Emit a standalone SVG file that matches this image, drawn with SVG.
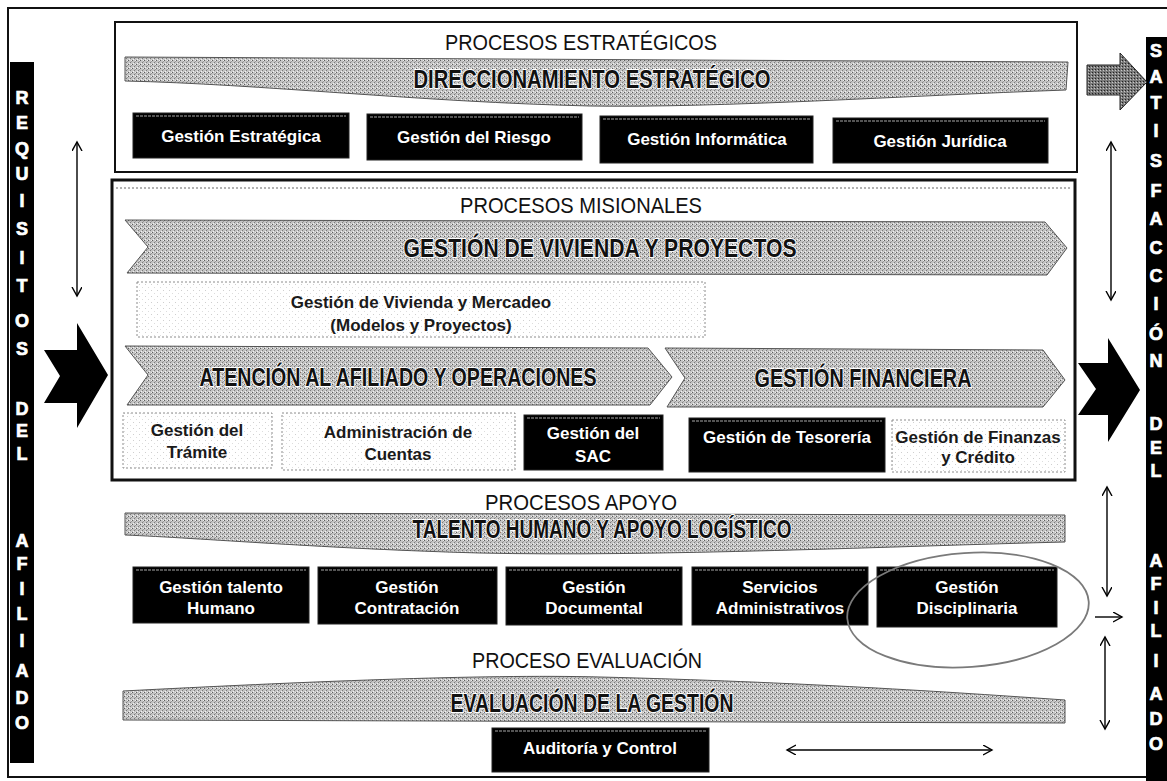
<svg xmlns="http://www.w3.org/2000/svg" width="1167" height="781" viewBox="0 0 1167 781">
<defs>
  <pattern id="ht" width="4" height="4" patternUnits="userSpaceOnUse">
    <rect width="4" height="4" fill="#c4c4c4"/>
    <rect x="0" y="0" width="1" height="1" fill="#5e5e5e"/>
    <rect x="2" y="2" width="1" height="1" fill="#7a7a7a"/>
    <rect x="3" y="1" width="1" height="1" fill="#9a9a9a"/>
    <rect x="3" y="0" width="1" height="1" fill="#efefef"/>
    <rect x="1" y="3" width="1" height="1" fill="#f2f2f2"/>
  </pattern>
  <pattern id="htd" width="3" height="3" patternUnits="userSpaceOnUse">
    <rect width="3" height="3" fill="#7a7a7a"/>
    <rect x="0" y="0" width="1" height="1" fill="#222"/>
    <rect x="2" y="1" width="1" height="1" fill="#c8c8c8"/>
  </pattern>
  <pattern id="lt" width="6" height="6" patternUnits="userSpaceOnUse">
    <rect width="6" height="6" fill="#ffffff"/>
    <rect x="1" y="2" width="1" height="1" fill="#cfcfcf"/>
    <rect x="4" y="5" width="1" height="1" fill="#dddddd"/>
  </pattern>
  <marker id="ah" markerWidth="12" markerHeight="12" refX="9" refY="5" orient="auto-start-reverse" markerUnits="userSpaceOnUse">
    <path d="M0,0 L9,5 L0,10" fill="none" stroke="#000" stroke-width="1.4"/>
  </marker>
  <style>
    .frame{fill:none;stroke:#111;stroke-width:2}
    .sec{fill:none;stroke:#111;stroke-width:2}
    .sec2{fill:none;stroke:#111;stroke-width:3}
    .bar{fill:#000}
    .barT{font-family:"Liberation Sans",Arial,sans-serif;font-weight:bold;font-size:18px;fill:#fff;stroke:#fff;stroke-width:0.7;text-anchor:middle}
    .head{font-family:"Liberation Sans",Arial,sans-serif;font-size:22px;fill:#111;text-anchor:middle}
    .band{fill:url(#ht);stroke:#555;stroke-width:1}
    .bandT{font-family:"Liberation Sans",Arial,sans-serif;font-weight:bold;font-size:26px;fill:#111;stroke:#fff;stroke-width:1.8;paint-order:stroke;text-anchor:middle}
    .bk{fill:#000;stroke:#222;stroke-width:1}
    .bkl{stroke:#a8a8a8;stroke-width:1;stroke-dasharray:3 1}
    .bkT{font-family:"Liberation Sans",Arial,sans-serif;font-weight:bold;font-size:17px;fill:#fff;text-anchor:middle}
    .wb{fill:url(#lt);stroke:#8c8c8c;stroke-width:1;stroke-dasharray:2 2}
    .wbT{font-family:"Liberation Sans",Arial,sans-serif;font-weight:bold;font-size:17px;fill:#1a1a1a;text-anchor:middle}
    .conn{stroke:#000;stroke-width:1.4;fill:none}
  </style>
</defs>
<rect width="1167" height="781" fill="#fff"/>
<!-- outer frame -->
<path class="frame" d="M1167,8 L8,8 L8,777 L1146,777"/>

<!-- left bar -->
<g id="requisitos">
  <rect class="bar" x="10" y="62" width="24" height="701"/>
  <g class="barT">
    <text x="22" y="104">R</text><text x="22" y="129">E</text><text x="22" y="155">Q</text><text x="22" y="180">U</text>
    <text x="22" y="207">I</text><text x="22" y="235">S</text><text x="22" y="264">I</text><text x="22" y="292">T</text>
    <text x="22" y="327">O</text><text x="22" y="355">S</text>
    <text x="22" y="415">D</text><text x="22" y="437">E</text><text x="22" y="460">L</text>
    <text x="22" y="547">A</text><text x="22" y="570">F</text><text x="22" y="595">I</text><text x="22" y="620">L</text>
    <text x="22" y="647">I</text><text x="22" y="677">A</text><text x="22" y="704">D</text><text x="22" y="729">O</text>
  </g>
</g>

<!-- right bar -->
<g id="satisfaccion">
  <rect class="bar" x="1146" y="37" width="21" height="744"/>
  <g class="barT">
    <text x="1156" y="57">S</text><text x="1156" y="83">A</text><text x="1156" y="109">T</text><text x="1156" y="137">I</text>
    <text x="1156" y="167">S</text><text x="1156" y="197">F</text><text x="1156" y="225">A</text><text x="1156" y="254">C</text>
    <text x="1156" y="282">C</text><text x="1156" y="310">I</text><text x="1156" y="340">Ó</text><text x="1156" y="367">N</text>
    <text x="1156" y="430">D</text><text x="1156" y="454">E</text><text x="1156" y="477">L</text>
    <text x="1156" y="567">A</text><text x="1156" y="590">F</text><text x="1156" y="614">I</text><text x="1156" y="637">L</text>
    <text x="1156" y="667">I</text><text x="1156" y="700">A</text><text x="1156" y="725">D</text><text x="1156" y="750">O</text>
  </g>
</g>

<!-- strategic section -->
<g id="procesos-estrategicos">
  <rect class="sec" x="115" y="22" width="962" height="150"/>
  <text class="head" x="581" y="50" textLength="272" lengthAdjust="spacingAndGlyphs">PROCESOS  ESTRATÉGICOS</text>
</g>
<g id="direccionamiento">
  <path class="band" d="M125,57 L1068,62 L1066,90 C900,96 720,108 590,106 C420,102 260,84 125,81 Z"/>
  <text class="bandT" x="592" y="88" textLength="357" lengthAdjust="spacingAndGlyphs">DIRECCIONAMIENTO ESTRATÉGICO</text>
</g>
<g id="gestion-estrategica">
  <rect class="bk" x="133" y="113" width="216" height="45"/>
  <line class="bkl" x1="136" y1="116" x2="346" y2="116"/>
  <text class="bkT" x="241" y="142">Gestión Estratégica</text>
</g>
<g id="gestion-riesgo">
  <rect class="bk" x="367" y="114" width="215" height="46"/>
  <line class="bkl" x1="370" y1="117" x2="579" y2="117"/>
  <text class="bkT" x="474" y="143">Gestión del Riesgo</text>
</g>
<g id="gestion-informatica">
  <rect class="bk" x="600" y="116" width="213" height="47"/>
  <line class="bkl" x1="603" y1="119" x2="810" y2="119"/>
  <text class="bkT" x="707" y="145">Gestión Informática</text>
</g>
<g id="gestion-juridica">
  <rect class="bk" x="833" y="118" width="215" height="45"/>
  <line class="bkl" x1="836" y1="121" x2="1045" y2="121"/>
  <text class="bkT" x="940" y="147">Gestión Jurídica</text>
</g>

<!-- missional section -->
<g id="procesos-misionales">
  <rect class="sec2" x="112" y="180" width="963" height="300"/>
  <line x1="116" y1="188" x2="1071" y2="188" stroke="#666" stroke-width="1" stroke-dasharray="2 2"/>
  <text class="head" x="581" y="213" textLength="242" lengthAdjust="spacingAndGlyphs">PROCESOS  MISIONALES</text>
</g>
<g id="gestion-vivienda-proyectos">
  <path class="band" d="M125,220 L1045,222 L1067,248 L1047,275 L127,273 L148,247 Z"/>
  <text class="bandT" x="600" y="257" textLength="393" lengthAdjust="spacingAndGlyphs">GESTIÓN DE VIVIENDA Y PROYECTOS</text>
</g>
<g id="gestion-vivienda-mercadeo">
  <rect class="wb" x="137" y="282" width="568" height="55"/>
  <text class="wbT" x="421" y="308">Gestión de Vivienda y Mercadeo</text>
  <text class="wbT" x="421" y="331">(Modelos  y Proyectos)</text>
</g>
<g id="atencion-afiliado">
  <path class="band" d="M125,346 L648,348 L672,377 L650,405 L127,405 L148,375 Z"/>
  <text class="bandT" x="398" y="386" textLength="397" lengthAdjust="spacingAndGlyphs">ATENCIÓN AL AFILIADO Y OPERACIONES</text>
</g>
<g id="gestion-financiera">
  <path class="band" d="M665,348 L1043,350 L1065,380 L1043,407 L667,407 L685,378 Z"/>
  <text class="bandT" x="863" y="387" textLength="217" lengthAdjust="spacingAndGlyphs">GESTIÓN FINANCIERA</text>
</g>
<g id="gestion-tramite">
  <rect class="wb" x="123" y="413" width="149" height="55"/>
  <text class="wbT" x="197" y="436">Gestión del</text>
  <text class="wbT" x="197" y="458">Trámite</text>
</g>
<g id="administracion-cuentas">
  <rect class="wb" x="282" y="413" width="233" height="57"/>
  <text class="wbT" x="398" y="438">Administración de</text>
  <text class="wbT" x="398" y="460">Cuentas</text>
</g>
<g id="gestion-sac">
  <rect class="bk" x="524" y="415" width="139" height="55"/>
  <line class="bkl" x1="527" y1="418" x2="660" y2="418"/>
  <text class="bkT" x="593" y="439">Gestión del</text>
  <text class="bkT" x="593" y="462">SAC</text>
</g>
<g id="gestion-tesoreria">
  <rect class="bk" x="689" y="418" width="196" height="54"/>
  <line class="bkl" x1="692" y1="421" x2="882" y2="421"/>
  <text class="bkT" x="787" y="443">Gestión de Tesorería</text>
</g>
<g id="gestion-finanzas-credito">
  <rect class="wb" x="892" y="420" width="173" height="52"/>
  <text class="wbT" x="978" y="443" font-size="15.5">Gestión de Finanzas</text>
  <text class="wbT" x="978" y="463" font-size="15.5">y  Crédito</text>
</g>

<!-- support section -->
<g id="procesos-apoyo">
  <text class="head" x="581" y="510" textLength="192" lengthAdjust="spacingAndGlyphs">PROCESOS  APOYO</text>
</g>
<g id="talento-humano-apoyo">
  <path class="band" d="M125,513 L1065,515 L1065,542 C900,546 650,557 480,553 C330,549 200,538 125,535 Z"/>
  <text class="bandT" x="602" y="538" font-size="24" textLength="379" lengthAdjust="spacingAndGlyphs">TALENTO HUMANO Y APOYO LOGÍSTICO</text>
</g>
<g id="gestion-talento-humano">
  <rect class="bk" x="133" y="567" width="176" height="56"/>
  <line class="bkl" x1="136" y1="570" x2="306" y2="570"/>
  <text class="bkT" x="221" y="593">Gestión talento</text>
  <text class="bkT" x="221" y="614">Humano</text>
</g>
<g id="gestion-contratacion">
  <rect class="bk" x="318" y="567" width="179" height="57"/>
  <line class="bkl" x1="321" y1="570" x2="494" y2="570"/>
  <text class="bkT" x="407" y="593">Gestión</text>
  <text class="bkT" x="407" y="614">Contratación</text>
</g>
<g id="gestion-documental">
  <rect class="bk" x="506" y="567" width="176" height="58"/>
  <line class="bkl" x1="509" y1="570" x2="679" y2="570"/>
  <text class="bkT" x="594" y="593">Gestión</text>
  <text class="bkT" x="594" y="614">Documental</text>
</g>
<g id="servicios-administrativos">
  <rect class="bk" x="692" y="567" width="176" height="58"/>
  <line class="bkl" x1="695" y1="570" x2="865" y2="570"/>
  <text class="bkT" x="780" y="593">Servicios</text>
  <text class="bkT" x="780" y="614">Administrativos</text>
</g>
<g id="gestion-disciplinaria">
  <rect class="bk" x="877" y="567" width="180" height="60"/>
  <line class="bkl" x1="880" y1="570" x2="1054" y2="570"/>
  <text class="bkT" x="967" y="593">Gestión</text>
  <text class="bkT" x="967" y="614">Disciplinaria</text>
  <ellipse cx="968" cy="610" rx="121" ry="57" transform="rotate(-4 968 610)" fill="none" stroke="#7a7a7a" stroke-width="1.8"/>
</g>

<!-- evaluation section -->
<g id="proceso-evaluacion">
  <text class="head" x="587" y="668" textLength="230" lengthAdjust="spacingAndGlyphs">PROCESO EVALUACIÓN</text>
</g>
<g id="evaluacion-gestion">
  <path class="band" d="M123,691 C300,682 480,674 600,677 C800,682 950,692 1065,700 L1065,723 L123,720 Z"/>
  <text class="bandT" x="592" y="712" font-size="24" textLength="283" lengthAdjust="spacingAndGlyphs">EVALUACIÓN DE LA GESTIÓN</text>
</g>
<g id="auditoria-control">
  <rect class="bk" x="492" y="728" width="217" height="44"/>
  <line class="bkl" x1="495" y1="731" x2="706" y2="731"/>
  <text class="bkT" x="600" y="754">Auditoría y Control</text>
</g>

<!-- connectors -->
<g id="connectors">
  <path d="M44,350 L77,350 L77,323 L108,375 L77,428 L77,403 L44,403 L60,376 Z" fill="#000"/>
  <path d="M1078,363 L1108,363 L1108,338 L1140,390 L1108,442 L1108,415 L1078,415 L1096,389 Z" fill="#000"/>
  <path d="M1087,65 L1120,65 L1120,53 L1147,82 L1120,110 L1120,95 L1087,95 Z" fill="url(#htd)" stroke="#222" stroke-width="1"/>
  <line class="conn" x1="77" y1="142" x2="77" y2="296" marker-start="url(#ah)" marker-end="url(#ah)"/>
  <line class="conn" x1="1111" y1="142" x2="1111" y2="300" marker-start="url(#ah)" marker-end="url(#ah)"/>
  <line class="conn" x1="1107" y1="487" x2="1107" y2="596" marker-start="url(#ah)" marker-end="url(#ah)"/>
  <line class="conn" x1="1105" y1="637" x2="1105" y2="729" marker-start="url(#ah)" marker-end="url(#ah)"/>
  <line class="conn" x1="1095" y1="617" x2="1122" y2="617" marker-end="url(#ah)"/>
  <line class="conn" x1="787" y1="750" x2="992" y2="750" marker-start="url(#ah)" marker-end="url(#ah)"/>
</g>
</svg>
